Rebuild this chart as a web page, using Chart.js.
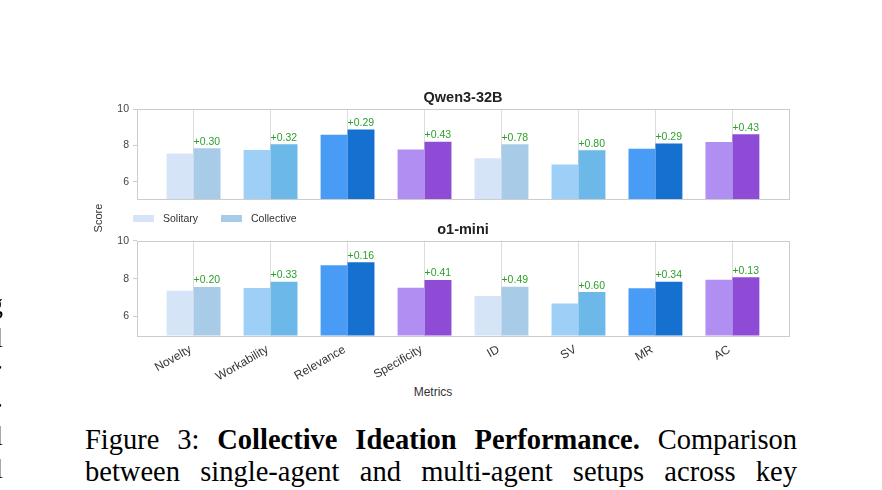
<!DOCTYPE html>
<html lang="en">
<head>
<meta charset="UTF-8">
<title>Collective Ideation Performance</title>
<script src="https://cdn.jsdelivr.net/npm/chart.js"></script>
<style>
  body { margin: 0; width: 882px; height: 490px; background: #fff; position: relative; overflow: hidden; font-family: "Liberation Sans", Arial, sans-serif; }
  .panel { position: absolute; left: 0; width: 882px; }
  .legend { position: absolute; top: 212px; left: 133px; font-size: 10.5px; color: #333; }
  .legend span.sw { position: absolute; top: 3px; width: 21px; height: 7px; }
  .legend span.tx { position: absolute; top: 0; white-space: nowrap; }
  .ylabel { position: absolute; left: 98px; top: 218px; transform: translate(-50%, -50%) rotate(-90deg); font-size: 11px; color: #333; white-space: nowrap; }
  .xlabel { position: absolute; left: 433px; top: 392px; transform: translate(-50%, -50%); font-size: 12px; color: #333; white-space: nowrap; }
  .caption { position: absolute; left: 85px; width: 712px; font-family: "Liberation Serif", "Times New Roman", serif; font-size: 28.5px; line-height: 32px; color: #000; text-align: justify; text-align-last: justify; white-space: nowrap; }
  .edge { position: absolute; left: -17px; width: 20px; text-align: right; font-family: "Liberation Serif", serif; font-size: 27px; line-height: 32px; }
</style>
</head>
<body>
<div class="panel" style="top:80px;height:130px"><canvas id="qwenChart"></canvas></div>
<div class="panel" style="top:220px;height:165px"><canvas id="o1Chart"></canvas></div>

<div class="legend">
  <span class="sw" style="left:0;background:#d5e5f7"></span><span class="tx" style="left:30px">Solitary</span>
  <span class="sw" style="left:88px;background:#a8cbe8"></span><span class="tx" style="left:118px">Collective</span>
</div>
<div class="ylabel">Score</div>
<div class="xlabel">Metrics</div>

<div class="caption" style="top:424px">Figure 3: <b>Collective Ideation Performance.</b> Comparison</div>
<div class="caption" style="top:456px">between single-agent and multi-agent setups across key</div>

<div class="edge" style="top:288px">g</div>
<div class="edge" style="top:322px">l</div>
<div class="edge" style="top:344px">.</div>
<div class="edge" style="top:382px">.</div>
<div class="edge" style="top:420px">l</div>
<div class="edge" style="top:453px">l</div>

<script>
    const metrics = ['Novelty', 'Workability', 'Relevance', 'Specificity', 'ID', 'SV', 'MR', 'AC'];
    const yTicks = [6, 8, 10];

    // Qwen3-32B
    const qwenSolitary = [7.55, 7.75, 8.59, 7.78, 7.29, 6.94, 7.82, 8.19];
    const qwenCollective = [7.85, 8.07, 8.88, 8.21, 8.07, 7.74, 8.11, 8.62];
    const qwenGain = ['+0.30', '+0.32', '+0.29', '+0.43', '+0.78', '+0.80', '+0.29', '+0.43'];

    // o1-mini
    const o1Solitary = [7.36, 7.50, 8.70, 7.52, 7.08, 6.69, 7.49, 7.94];
    const o1Collective = [7.56, 7.83, 8.86, 7.93, 7.57, 7.29, 7.83, 8.07];
    const o1Gain = ['+0.20', '+0.33', '+0.16', '+0.41', '+0.49', '+0.60', '+0.34', '+0.13'];

    const solitaryColors = ['#d5e5f7', '#9ecff7', '#489cf5', '#b18ff2', '#d5e5f7', '#9ecff7', '#489cf5', '#b18ff2'];
    const collectiveColors = ['#a8cbe8', '#6cb8e8', '#1670d0', '#8e4bd6', '#a8cbe8', '#6cb8e8', '#1670d0', '#8e4bd6'];

    Chart.defaults.font.family = '"Liberation Sans", Arial, sans-serif';

    // green "+x.xx" text above each collective bar
    const gainLabels = {
        id: 'gainLabels',
        afterDatasetsDraw(chart, args, opts) {
            const { ctx, scales: { x, y } } = chart;
            ctx.save();
            ctx.font = '10.5px "Liberation Sans", Arial, sans-serif';
            ctx.fillStyle = '#2ca02c';
            ctx.textAlign = 'left';
            ctx.textBaseline = 'alphabetic';
            opts.gains.forEach((g, i) => {
                ctx.fillText(g, x.getPixelForValue(i), y.getPixelForValue(opts.values[i]) - 3.5);
            });
            ctx.restore();
        }
    };

    // gray box round the plot area
    const frame = {
        id: 'frame',
        afterDatasetsDraw(chart) {
            const { ctx, chartArea: a } = chart;
            ctx.save();
            ctx.strokeStyle = '#cccccc';
            ctx.lineWidth = 1;
            ctx.strokeRect(Math.round(a.left) + 0.5, Math.round(a.top) + 0.5,
                Math.round(a.right - a.left), Math.round(a.bottom - a.top));
            ctx.restore();
        }
    };

    function makeChart(id, title, solitary, collective, gains, cfg) {
        return new Chart(document.getElementById(id), {
            type: 'bar',
            data: {
                datasets: [
                    {
                        label: 'Solitary',
                        data: solitary.map((v, i) => ({ x: i, y: v })),
                        backgroundColor: solitaryColors,
                        borderWidth: 0
                    },
                    {
                        label: 'Collective',
                        data: collective.map((v, i) => ({ x: i, y: v })),
                        backgroundColor: collectiveColors,
                        borderWidth: 0
                    }
                ]
            },
            options: {
                responsive: true,
                maintainAspectRatio: false,
                animation: false,
                categoryPercentage: 0.7,
                barPercentage: 1.0,
                layout: { padding: { left: 0, right: 93, top: 0, bottom: cfg.padBottom } },
                plugins: {
                    legend: { display: false },
                    tooltip: { enabled: false },
                    title: {
                        display: true,
                        text: title,
                        fullSize: false,
                        color: '#222',
                        font: { size: 14.5, weight: 'bold' },
                        padding: { top: cfg.titleTop, bottom: cfg.titleBottom }
                    },
                    gainLabels: { gains: gains, values: collective }
                },
                scales: {
                    x: {
                        type: 'linear',
                        offset: false,
                        min: -0.735,
                        max: 7.735,
                        afterBuildTicks: axis => { axis.ticks = metrics.map((m, i) => ({ value: i })); },
                        afterFit: axis => { axis.height = cfg.xHeight; },
                        grid: { color: '#dddddd', drawTicks: false, offset: false },
                        border: { display: false },
                        ticks: {
                            display: cfg.showLabels,
                            autoSkip: false,
                            minRotation: 30,
                            maxRotation: 30,
                            padding: 7,
                            labelOffset: -3,
                            color: '#333',
                            font: { size: 12 },
                            callback: v => metrics[v]
                        }
                    },
                    y: {
                        min: 5,
                        max: 10,
                        afterBuildTicks: axis => { axis.ticks = yTicks.map(v => ({ value: v })); },
                        afterFit: axis => { axis.width = 137; },
                        grid: { drawOnChartArea: false, tickLength: 4, color: '#cccccc' },
                        border: { display: false },
                        ticks: { padding: 4, color: '#444', font: { size: 10.5 } }
                    }
                }
            },
            plugins: [gainLabels, frame]
        });
    }

    makeChart('qwenChart', 'Qwen3-32B', qwenSolitary, qwenCollective, qwenGain,
        { showLabels: false, xHeight: 0, padBottom: 5, titleTop: 9.6, titleBottom: 2.3 });
    makeChart('o1Chart', 'o1-mini', o1Solitary, o1Collective, o1Gain,
        { showLabels: true, xHeight: 49.5, padBottom: 0, titleTop: 0.8, titleBottom: 2.5 });
</script>
</body>
</html>
